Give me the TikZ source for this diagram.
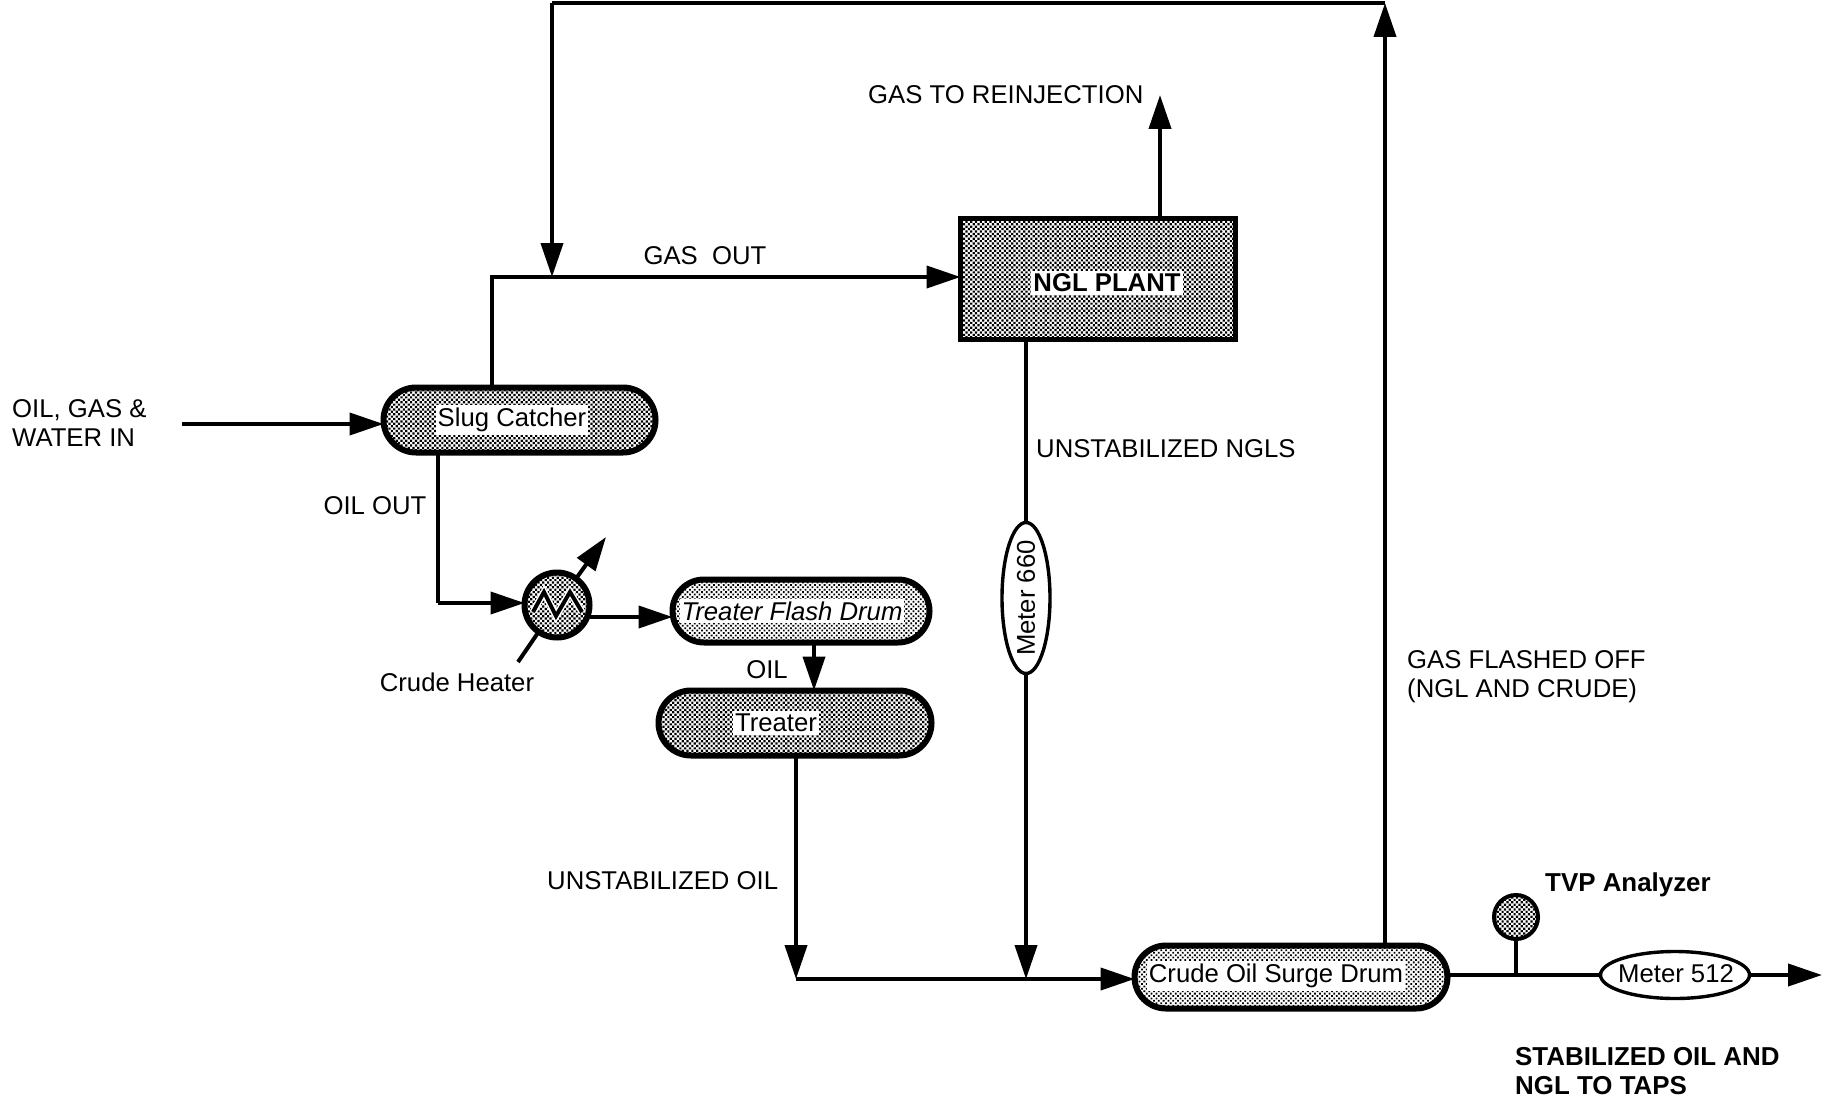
\documentclass[tikz,border=0pt]{standalone}
\usepackage{fontspec}
\setmainfont{Liberation Sans}
\usetikzlibrary{arrows.meta,shapes.misc,shapes.geometric,patterns.meta}
\tikzset{
  x=1pt,y=-1pt,
  txt/.style={inner sep=0pt,font=\fontsize{25.7}{29}\selectfont,text=black,align=left},
  boldtxt/.style={txt,font=\fontsize{25.9}{28.5}\selectfont\bfseries},
  tag/.style={txt,fill=white,inner xsep=2pt,inner ysep=3pt},
  darkdither/.style={pattern={Dots[distance=3.4pt,radius=1.55pt,angle=45]},pattern color=black},
  lightdither/.style={pattern={Dots[distance=3.4pt,radius=1.25pt,angle=45]},pattern color=black},
  drum/.style={rounded rectangle,draw=black,line width=6pt,outer sep=0pt,inner sep=0pt},
  meter/.style={ellipse,draw=black,line width=3.4pt,fill=white,outer sep=0pt,inner sep=0pt},
  pipe/.style={draw=black,line width=4pt},
  flow/.style={pipe,-{Triangle[length=34pt,width=22pt]}},
}
\begin{document}
\begin{tikzpicture}
\useasboundingbox (0,0) rectangle (1822,1097);
% vessels
\node[drum,darkdither,minimum width=272pt,minimum height=65pt] (slug) at (519.5,420) {};
\node[drum,lightdither,minimum width=257pt,minimum height=63pt] (flash) at (801,611) {};
\node[drum,darkdither,minimum width=273pt,minimum height=65pt] (treater) at (795,723) {};
\node[drum,lightdither,minimum width=313pt,minimum height=63pt] (surge) at (1291,977) {};
\node[rectangle,draw=black,line width=5pt,darkdither,outer sep=0pt,minimum width=275pt,minimum height=121pt] (ngl) at (1098,279) {};
\node[circle,draw=black,line width=6pt,darkdither,outer sep=0pt,minimum size=65pt,inner sep=0pt] (heater) at (557,605) {};
\node[circle,draw=black,line width=4pt,darkdither,outer sep=0pt,minimum size=44pt,inner sep=0pt] (tvp) at (1516,917) {};
\node[meter,minimum width=48pt,minimum height=151pt] (m660) at (1026,598) {};
\node[meter,minimum width=149pt,minimum height=47pt] (m512) at (1675,975) {};
% heater coil
\draw[white,line width=7pt] (533,612) -- (544,592) -- (556,616) -- (570,592) -- (582,612);
\draw[black,line width=4pt] (533,612) -- (544,592) -- (556,616) -- (570,592) -- (582,612);
% junctions and free ends
\coordinate (inlet) at (182,424);
\coordinate (gasj) at (492,277);
\coordinate (gasm) at (552,277);
\coordinate (topl) at (552,3);
\coordinate (topr) at (1385,3);
\coordinate (oilj) at (438,603);
\coordinate (coldin) at (518,662);
\coordinate (hotout) at (606,537);
\coordinate (lowj) at (796,979);
\coordinate (midj) at (1026,979);
\coordinate (reinj) at (1160,95);
\coordinate (tvpj) at (1516,975);
\coordinate (taps) at (1822,975);
% connectors
\draw[flow] (inlet) -- (slug.west |- inlet);
\draw[pipe] (slug.north -| gasj) -- (gasj) -- (gasm);
\draw[flow] (gasm) -- (ngl.west |- gasm);
\draw[pipe] (ngl.south -| m660) -- (m660.north);
\draw[flow] (m660.south) -- (midj);
\draw[flow] (ngl.north -| reinj) -- (reinj);
\draw[flow] (topl) -- (gasm);
\draw[pipe] (topl) -- (topr);
\draw[flow] (surge.north -| topr) -- (topr);
\draw[pipe] (slug.south -| oilj) -- (oilj);
\draw[flow] (oilj) -- (heater.west |- oilj);
\draw[flow] (heater.east |- 0,617) -- (flash.west |- 0,617);
\draw[pipe] (coldin) -- (heater);
\draw[flow] (heater) -- (hotout);
\draw[flow] (flash.south -| 814,0) -- (treater.north -| 814,0);
\draw[flow] (treater.south -| lowj) -- (lowj);
\draw[flow] (lowj) -- (surge.west |- lowj);
\draw[pipe] (surge.east |- tvpj) -- (m512.west);
\draw[pipe] (tvp) -- (tvpj);
\draw[flow] (m512.east) -- (taps);
% tags on vessels
\node[tag] (tslug) at (512,420) {Slug Catcher};
\node[tag,font=\fontsize{25.7}{29}\selectfont\itshape] (tflash) at (792,611) {Treater Flash Drum};
\node[tag] (ttreat) at (776,723) {Treater};
\node[tag] (tsurge) at (1276,976) {Crude Oil Surge Drum};
\node[tag,font=\fontsize{25.7}{29}\selectfont\bfseries] (tngl) at (1107,283) {NGL PLANT};
\node[txt,rotate=90] (tm660) at (1026,598) {Meter 660};
\node[txt] (tm512) at (1676,974) {Meter 512};
% labels
\node[txt,anchor=west] (l1) at (868,95) {GAS TO REINJECTION};
\node[txt] (l2) at (705,256) {GAS\ \ OUT};
\node[txt,anchor=west] (l3) at (12,423) {OIL, GAS \&\\WATER IN};
\node[txt] (l4) at (375,506) {OIL OUT};
\node[txt] (l5) at (457,682) {Crude Heater};
\node[txt] (l6) at (767,670) {OIL};
\node[txt,anchor=west] (l7) at (1036,449) {UNSTABILIZED NGLS};
\node[txt,anchor=west] (l8) at (547,881) {UNSTABILIZED OIL};
\node[txt,anchor=west] (l9) at (1407,677) {GAS FLASHED OFF\\(NGL AND CRUDE)};
\node[boldtxt,anchor=west] (l10) at (1545,885) {TVP Analyzer};
\node[boldtxt,anchor=west] (l11) at (1515,1071) {STABILIZED OIL AND\\NGL TO TAPS};
\end{tikzpicture}
\end{document}
